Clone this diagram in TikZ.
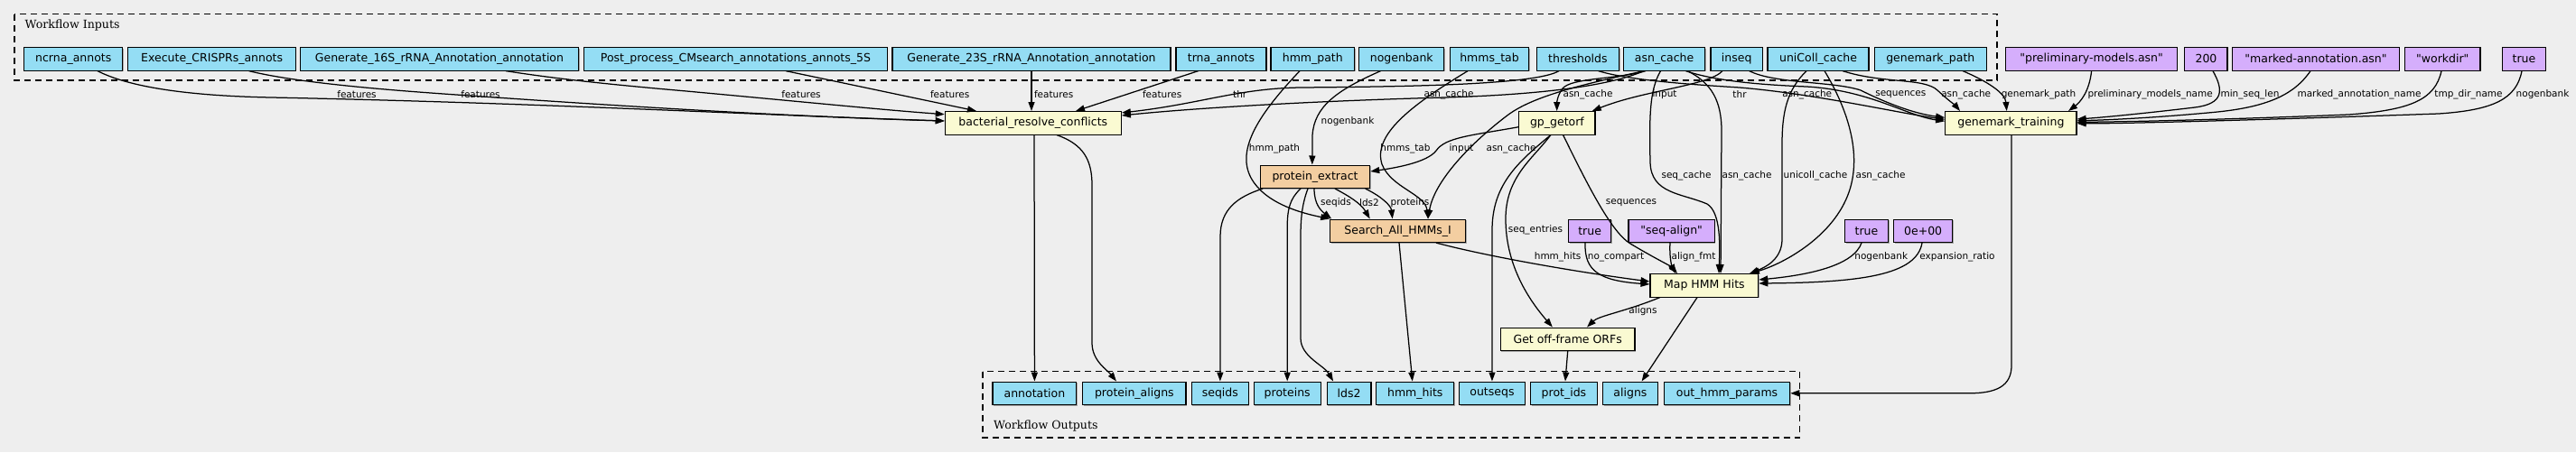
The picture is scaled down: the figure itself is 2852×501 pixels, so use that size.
\documentclass[tikz,border=0pt]{standalone}
\usepackage{fontspec}
\setmainfont{DejaVu Serif}
\newfontfamily\sansf{DejaVu Sans}
\usetikzlibrary{arrows.meta,shadows}
\definecolor{bgc}{HTML}{EEEEEE}
\definecolor{inblue}{HTML}{94DDF4}
\definecolor{stepy}{HTML}{FAFAD2}
\definecolor{subw}{HTML}{F3CEA1}
\definecolor{defv}{HTML}{D5AEFC}
\begin{document}
\begin{tikzpicture}[x=1pt,y=-1pt,
  box/.style={draw=black, line width=1.1pt, rectangle, inner sep=0pt, minimum height=25.5pt,
    font=\sansf\fontsize{12.5}{14}\selectfont,
    drop shadow={shadow xshift=1pt, shadow yshift=-1pt, opacity=0.3, fill=black}},
  io/.style={box, fill=inblue},
  stepnode/.style={box, fill=stepy},
  subwf/.style={box, fill=subw},
  dv/.style={box, fill=defv},
  conn/.style={draw=black, line width=1.25pt, -{Triangle[length=10pt,width=7pt]}},
  lbl/.style={font=\sansf\fontsize{10.5}{12}\selectfont, inner sep=0pt},
  cluster/.style={draw=black, line width=1.2pt, dash pattern=on 7pt off 5pt},
  ctitle/.style={font=\rmfamily\fontsize{12.6}{14}\selectfont, inner sep=0pt, anchor=west}
]
\useasboundingbox (0,0) rectangle (2852,501);
\fill[bgc] (0,0) rectangle (2852,501);

% clusters
\draw[cluster] (16,15.7) rectangle (2211,89);
\node[ctitle] (tin) at (27.5,27.7) {Workflow Inputs};
\draw[cluster] (1088,411.7) rectangle (1992.7,485);
\node[ctitle] (tout) at (1100,471.7) {Workflow Outputs};

% inputs
\node[io,minimum width=109.3pt] (ncrna) at (81.25,65.3) {ncrna\_annots};
\node[io,minimum width=185.5pt] (crispr) at (234.65,65.3) {Execute\_CRISPRs\_annots};
\node[io,minimum width=308.1pt] (r16) at (486.45,65.3) {Generate\_16S\_rRNA\_Annotation\_annotation};
\node[io,minimum width=335.9pt] (r5) at (814.45,65.3) {Post\_process\_CMsearch\_annotations\_annots\_5S};
\node[io,minimum width=308pt] (r23) at (1142,65.3) {Generate\_23S\_rRNA\_Annotation\_annotation};
\node[io,minimum width=100pt] (trna) at (1352,65.3) {trna\_annots};
\node[io,minimum width=92.6pt] (hmmpath) at (1453.3,65.3) {hmm\_path};
\node[io,minimum width=94.1pt] (nogb) at (1551.75,65.3) {nogenbank};
\node[io,minimum width=87.7pt] (hmmstab) at (1649.05,65.3) {hmms\_tab};
\node[io,minimum width=91.4pt] (thr) at (1746.9,65.3) {thresholds};
\node[io,minimum width=90pt] (asn) at (1842.6,65.3) {asn\_cache};
\node[io,minimum width=57.4pt] (inseq) at (1922.7,65.3) {inseq};
\node[io,minimum width=112pt] (uni) at (2013,65.3) {uniColl\_cache};
\node[io,minimum width=124pt] (gmp) at (2137.3,65.3) {genemark\_path};
\node[dv,minimum width=189.4pt] (prelim) at (2315.6,65.3) {"preliminary-models.asn"};
\node[dv,minimum width=47.1pt] (n200) at (2442.45,65.3) {200};
\node[dv,minimum width=184.6pt] (marked) at (2564,65.3) {"marked-annotation.asn"};
\node[dv,minimum width=83.4pt] (workdir) at (2704.3,65.3) {"workdir"};
\node[dv,minimum width=47.9pt] (trueT) at (2794.45,65.3) {true};

% steps
\node[stepnode,minimum width=195pt] (brc) at (1143.8,136.3) {bacterial\_resolve\_conflicts};
\node[stepnode,minimum width=84.1pt] (gp) at (1723.95,136.3) {gp\_getorf};
\node[stepnode,minimum width=145.3pt] (gt) at (2226.35,136.3) {genemark\_training};
\node[subwf,minimum width=121.4pt] (pe) at (1456,195.8) {protein\_extract};
\node[subwf,minimum width=149.8pt] (srch) at (1547.6,255.8) {Search\_All\_HMMs\_I};
\node[dv,minimum width=47.3pt] (trueA) at (1760.15,255.8) {true};
\node[dv,minimum width=95.3pt] (salign) at (1850.65,255.8) {"seq-align"};
\node[dv,minimum width=48pt] (trueB) at (2066.5,255.8) {true};
\node[dv,minimum width=64.9pt] (zero) at (2129.15,255.8) {0e+00};
\node[stepnode,minimum width=119.7pt] (map) at (1886.85,316.3) {Map HMM Hits};
\node[stepnode,minimum width=148.6pt] (goff) at (1735.7,375.8) {Get off-frame ORFs};

% outputs
\node[io,minimum width=92.8pt] (annotation) at (1145.4,435.8) {annotation};
\node[io,minimum width=114.3pt] (paligns) at (1255.85,435.8) {protein\_aligns};
\node[io,minimum width=63.1pt] (seqids) at (1350.85,435.8) {seqids};
\node[io,minimum width=74pt] (proteins) at (1425.2,435.8) {proteins};
\node[io,minimum width=48.9pt] (lds2) at (1493.55,435.8) {lds2};
\node[io,minimum width=86.1pt] (hmmhits) at (1566.75,435.8) {hmm\_hits};
\node[io,minimum width=72.9pt] (outseqs) at (1651.95,435.8) {outseqs};
\node[io,minimum width=73.5pt] (protids) at (1731.45,435.8) {prot\_ids};
\node[io,minimum width=60.9pt] (alignsout) at (1804.95,435.8) {aligns};
\node[io,minimum width=139.4pt] (ohp) at (1912,435.8) {out\_hmm\_params};

% edges into bacterial_resolve_conflicts
\draw[conn] ([xshift=26.75pt]ncrna.south) .. controls (140,95) and (200,106) .. (300,108) .. controls (600,114) and (850,128) .. ([yshift=2.3pt]brc.west);
\draw[conn] ([xshift=40.85pt]crispr.south) .. controls (330,92) and (430,100) .. (520,106) .. controls (720,120) and (900,130) .. ([yshift=2.3pt]brc.west);
\draw[conn] ([xshift=73.55pt]r16.south) .. controls (620,88) and (680,94) .. (760,101) .. controls (880,112) and (980,122) .. ([yshift=9.6pt]brc.west);
\draw[conn] ([xshift=55.55pt]r5.south) -- ([xshift=-62.8pt]brc.north);
\draw[conn] (r23.south) -- (r23.south |- brc.north);
\draw[conn] ([xshift=-25.3pt]trna.south) -- ([xshift=47.2pt]brc.north);
\draw[conn] ([xshift=-20.9pt]thr.south) .. controls (1700,94) and (1560,96) .. (1440,97) .. controls (1370,98) and (1330,115) .. ([yshift=11.3pt]brc.east);
\draw[conn] ([xshift=-22.6pt]asn.south) .. controls (1780,96) and (1700,105) .. (1600,108) .. controls (1450,112) and (1320,120) .. ([yshift=8.3pt]brc.east);

% edges into genemark_training
\draw[conn] ([xshift=22.7pt]thr.south) .. controls (1800,88) and (1860,93) .. (1926,97) .. controls (2010,104) and (2100,125) .. ([yshift=4pt]gt.west);
\draw[conn] ([xshift=23.7pt]asn.south) .. controls (1900,90) and (1950,94) .. (2000,96) .. controls (2070,100) and (2110,128) .. ([yshift=2pt]gt.west);
\draw[conn] ([xshift=14pt]inseq.south) .. controls (1965,93) and (2030,90) .. (2060,100) .. controls (2090,115) and (2120,126) .. ([yshift=6pt]gt.west);
\draw[conn] ([xshift=27pt]uni.south) .. controls (2085,93) and (2130,86) .. (2145,100) .. controls (2158,112) and (2165,117) .. ([xshift=-56.35pt]gt.north);
\draw[conn] ([xshift=35.7pt]gmp.south) .. controls (2200,90) and (2220,103) .. ([xshift=-4.65pt]gt.north);
\draw[conn] (prelim.south) .. controls (2313,103) and (2302,114) .. ([xshift=63.65pt]gt.north);
\draw[conn] ([xshift=7.5pt]n200.south) .. controls (2462,100) and (2462,115) .. (2430,119) .. controls (2380,125) and (2330,130) .. ([yshift=4.3pt]gt.east);
\draw[conn] ([xshift=-6pt]marked.south) .. controls (2540,105) and (2510,119) .. (2450,124.5) .. controls (2380,131) and (2330,133) .. ([yshift=2.5pt]gt.east);
\draw[conn] ([xshift=-1.3pt]workdir.south) .. controls (2696,110) and (2670,122) .. (2600,127) .. controls (2450,133) and (2350,135) .. ([yshift=1pt]gt.east);
\draw[conn] ([xshift=-2.45pt]trueT.south) .. controls (2786,110) and (2760,122) .. (2700,126) .. controls (2500,133) and (2350,137) .. ([yshift=-0.5pt]gt.east);

% edges into gp_getorf
\draw[conn] ([xshift=-20.6pt]asn.south) .. controls (1790,88) and (1740,86) .. (1730,98) .. controls (1724,106) and (1723.7,114) .. ([xshift=-0.25pt]gp.north);
\draw[conn] ([xshift=-15.7pt]inseq.south) .. controls (1892,95) and (1820,100) .. ([xshift=38.75pt]gp.north);

% edges out of gp_getorf
\draw[conn] ([yshift=-4.4pt]gp.west) .. controls (1630,150) and (1600,152) .. (1590,167) .. controls (1580,180) and (1545,186) .. ([yshift=5.8pt]pe.east);
\draw[conn] ([xshift=6.65pt]gp.south) .. controls (1760,210) and (1785,258) .. (1805,270) .. controls (1830,285) and (1850,295) .. ([xshift=-29.85pt]map.north);
\draw[conn] ([xshift=-7.15pt]gp.south) .. controls (1698,175) and (1668,195) .. (1667,240) .. controls (1666,295) and (1695,335) .. ([xshift=-16.9pt]goff.north);
\draw[conn] ([xshift=-7.15pt]gp.south) .. controls (1680,180) and (1652,205) .. (1652,255) -- (outseqs.north);

% protein_extract in
\draw[conn] ([xshift=-23.15pt]nogb.south) .. controls (1480,100) and (1455,118) .. (1453,150) -- ([xshift=-3.2pt]pe.north);

% Search in
\draw[conn] ([xshift=-14.3pt]hmmpath.south) .. controls (1395,125) and (1368,165) .. (1385,197) .. controls (1400,225) and (1440,236) .. (srch.north west);
\draw[conn] ([xshift=-24pt]hmmstab.south) .. controls (1560,118) and (1520,150) .. (1530,182) .. controls (1540,208) and (1578,215) .. ([xshift=33.4pt]srch.north);
\draw[conn] ([xshift=-22.6pt]asn.south) .. controls (1760,92) and (1700,105) .. (1670,127) .. controls (1630,157) and (1588,200) .. ([xshift=33.4pt]srch.north);
\draw[conn] ([xshift=-1pt]pe.south) .. controls (1455,226) and (1462,233) .. ([xshift=2pt]srch.north west);
\draw[conn] ([xshift=22pt]pe.south) .. controls (1495,218) and (1507,226) .. ([xshift=-30.9pt]srch.north);
\draw[conn] ([xshift=55.7pt]pe.south) .. controls (1530,218) and (1540,228) .. ([xshift=-5.9pt]srch.north);

% protein_extract out
\draw[conn] ([xshift=-58pt]pe.south) .. controls (1370,218) and (1351,232) .. (1351,262) -- (seqids.north);
\draw[conn] ([xshift=-16pt]pe.south) .. controls (1428,220) and (1425.2,232) .. (1425.2,252) -- (proteins.north);
\draw[conn] ([xshift=-8pt]pe.south) .. controls (1442,225) and (1440,240) .. (1440,262) -- (1440,375) .. controls (1440,395) and (1466,405) .. ([xshift=-17.5pt]lds2.north);

% Search out
\draw[conn] ([xshift=1.4pt]srch.south) -- ([xshift=-3pt]hmmhits.north);
\draw[conn] ([xshift=42.4pt]srch.south) .. controls (1650,285) and (1750,302) .. ([yshift=4.3pt]map.west);

% Map HMM Hits in
\draw[conn] ([xshift=-5.15pt]trueA.south) .. controls (1754,300) and (1770,311) .. ([yshift=1.3pt]map.west);
\draw[conn] ([xshift=-1.65pt]salign.south) .. controls (1848,285) and (1851,295) .. ([xshift=-31.85pt]map.north);
\draw[conn] ([xshift=-4.1pt]asn.south) .. controls (1826,100) and (1826,130) .. (1827,180) .. controls (1828,215) and (1862,214) .. (1890,226) .. controls (1906,236) and (1904,275) .. ([xshift=16.15pt]map.north);
\draw[conn] ([xshift=25.7pt]asn.south) .. controls (1895,92) and (1906,112) .. (1906,145) -- ([xshift=18.15pt]map.north);
\draw[conn] ([xshift=-13pt]uni.south) .. controls (1978,100) and (1973,125) .. (1973,160) -- (1973,265) .. controls (1973,287) and (1955,296) .. ([xshift=50.15pt]map.north);
\draw[conn] ([xshift=7pt]uni.south) .. controls (2045,120) and (2062,170) .. (2047,213) .. controls (2030,262) and (1975,292) .. ([xshift=51pt]map.north);
\draw[conn] ([xshift=-5.5pt]trueB.south) .. controls (2052,295) and (2000,305) .. ([yshift=6.3pt]map.east);
\draw[conn] ([xshift=-1.15pt]zero.south) .. controls (2122,305) and (2060,313) .. ([yshift=2.3pt]map.east);

% Map out
\draw[conn] ([xshift=-49.15pt]map.south) .. controls (1800,345) and (1770,350) .. ([xshift=21.3pt]goff.north);
\draw[conn] ([xshift=-7.85pt]map.south) -- ([xshift=12.65pt]alignsout.north);
\draw[conn] (goff.south) -- ([xshift=1.5pt]protids.north);

% brc out
\draw[conn] ([xshift=1.2pt]brc.south) -- (annotation.north);
\draw[conn] ([xshift=26.2pt]brc.south) .. controls (1200,160) and (1209,178) .. (1209,205) -- (1209,380) .. controls (1209,400) and (1226,410) .. ([xshift=-19.85pt]paligns.north);

% genemark_training out
\draw[conn] ([xshift=0.65pt]gt.south) -- (2227,405) .. controls (2227,428) and (2210,435.8) .. (2180,435.8) -- (ohp.east);

% labels
\node[lbl] (l1) at (395,105) {features};
\node[lbl] (l2) at (532,105) {features};
\node[lbl] (l3) at (887,104.3) {features};
\node[lbl] (l4) at (1051.7,104.3) {features};
\node[lbl] (l5) at (1166.7,104.3) {features};
\node[lbl] (l6) at (1286.7,104.3) {features};
\node[lbl] (l7) at (1372.7,104.3) {thr};
\node[lbl] (l8) at (1604,104.3) {asn\_cache};
\node[lbl] (l9) at (1758,104.3) {asn\_cache};
\node[lbl] (l10) at (1843,104.3) {input};
\node[lbl] (l11) at (1926,104.3) {thr};
\node[lbl] (l12) at (2000.7,104.3) {asn\_cache};
\node[lbl] (l13) at (2104.3,104.3) {sequences};
\node[lbl] (l14) at (2176.7,104.3) {asn\_cache};
\node[lbl] (l15) at (2257,104.3) {genemark\_path};
\node[lbl] (l16) at (2380.6,104.3) {preliminary\_models\_name};
\node[lbl] (l17) at (2491,104.3) {min\_seq\_len};
\node[lbl] (l18) at (2612,104.3) {marked\_annotation\_name};
\node[lbl] (l19) at (2733,104.3) {tmp\_dir\_name};
\node[lbl] (l20) at (2815,104.3) {nogenbank};
\node[lbl] (l21) at (1492,135) {nogenbank};
\node[lbl] (l22) at (1411,165) {hmm\_path};
\node[lbl] (l23) at (1556,165) {hmms\_tab};
\node[lbl] (l24) at (1618,165) {input};
\node[lbl] (l25) at (1673,165) {asn\_cache};
\node[lbl] (l26) at (1867,195) {seq\_cache};
\node[lbl] (l27) at (1934,195) {asn\_cache};
\node[lbl] (l28) at (2010,195) {unicoll\_cache};
\node[lbl] (l29) at (2082,195) {asn\_cache};
\node[lbl] (l30) at (1479,225) {seqids};
\node[lbl] (l31) at (1516,225) {lds2};
\node[lbl] (l32) at (1561,225) {proteins};
\node[lbl] (l33) at (1806,225) {sequences};
\node[lbl] (l34) at (1700,255) {seq\_entries};
\node[lbl] (l35) at (1724.6,285) {hmm\_hits};
\node[lbl] (l36) at (1789,285) {no\_compart};
\node[lbl] (l37) at (1875,285) {align\_fmt};
\node[lbl] (l38) at (2082.7,285) {nogenbank};
\node[lbl] (l39) at (2167,285) {expansion\_ratio};
\node[lbl] (l40) at (1819,344.3) {aligns};
\end{tikzpicture}
\end{document}
